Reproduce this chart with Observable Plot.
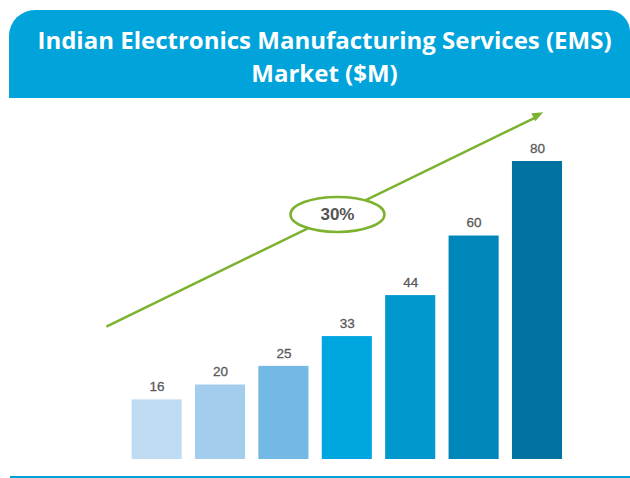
<!DOCTYPE html>
<html>
<head>
<meta charset="utf-8">
<script src="https://cdn.jsdelivr.net/npm/d3@7"></script>
<script src="https://cdn.jsdelivr.net/npm/@observablehq/plot@0.6"></script>
<style>
  html, body { margin: 0; padding: 0; background: #fff; }
  body { width: 630px; height: 478px; overflow: hidden; }
  #header {
    margin: 10px 0 0 9px; width: 621px; height: 88px; box-sizing: border-box;
    padding: 13px 0 0 10px; background: #00a3da; color: #fff;
    border-radius: 26px 22px 0 0; text-align: center; white-space: nowrap;
    font: bold 24px "Open Sans", Lato, sans-serif; line-height: 33px;
  }
  #chart svg { display: block; }
  #baseline { margin-left: 10px; width: 620px; height: 2px; background: #00a3da; }
</style>
</head>
<body>
<div id="header">Indian Electronics Manufacturing Services (EMS)<br>Market ($M)</div>
<div id="chart"></div>
<div id="baseline"></div>
<script>
// Data
const categories = ["Y1", "Y2", "Y3", "Y4", "Y5", "Y6", "Y7"];
const values = [16, 20, 25, 33, 44, 60, 80];
const palette = ["#c0dcf2", "#a3cdec", "#74b9e5", "#00a6e0", "#0098cd", "#0087b9", "#0073a0"];
const growthLabel = "30%";
// trend arrow (in data units: x = bar index, y = $M)
const trendStart = [-0.80, 35.7];
const trendEnd = [6.09, 93.2];
const badgeAt = [2.845, 65.8];

const data = categories.map((c, i) => ({category: c, i, value: values[i]}));
const green = "#7cb22f";

const ellipseSymbol = {
  draw(ctx) {
    const rx = 47, ry = 17.5, k = 0.5523;
    ctx.moveTo(rx, 0);
    ctx.bezierCurveTo(rx, ry * k, rx * k, ry, 0, ry);
    ctx.bezierCurveTo(-rx * k, ry, -rx, ry * k, -rx, 0);
    ctx.bezierCurveTo(-rx, -ry * k, -rx * k, -ry, 0, -ry);
    ctx.bezierCurveTo(rx * k, -ry, rx, -ry * k, rx, 0);
    ctx.closePath();
  }
};
const headSymbol = {
  draw(ctx) {
    ctx.moveTo(0, 0);
    ctx.lineTo(-11, -4.5);
    ctx.lineTo(-11, 4.5);
    ctx.closePath();
  }
};

const chart = Plot.plot({
  width: 630,
  height: 378,
  margin: 0,
  x: {type: "linear", domain: [0, 6], range: [156.6, 537], axis: null},
  y: {domain: [0, 80], range: [361, 63], axis: null},
  color: {type: "ordinal", domain: categories, range: palette},
  marks: [
    Plot.rectY(data, {x1: d => d.i - 0.395, x2: d => d.i + 0.395, y: "value", fill: "category"}),
    Plot.text(data, {x: "i", y: "value", text: d => String(d.value), dy: -13,
      fill: "#595959", fontSize: 13.5, fontFamily: "Liberation Sans, Arial, sans-serif",
      stroke: "#595959", strokeWidth: 0.3}),
    Plot.link([0], {x1: () => trendStart[0], y1: () => trendStart[1], x2: () => trendEnd[0] - 0.1, y2: () => trendEnd[1] - 1.2,
      stroke: green, strokeWidth: 2.5}),
    Plot.dot([0], {x: () => trendEnd[0], y: () => trendEnd[1], symbol: headSymbol, rotate: -26.1,
      fill: green, stroke: "none"}),
    Plot.dot([0], {x: () => badgeAt[0], y: () => badgeAt[1], symbol: ellipseSymbol,
      fill: "white", stroke: green, strokeWidth: 2.5}),
    Plot.text([growthLabel], {x: () => badgeAt[0], y: () => badgeAt[1], text: d => d,
      fill: "#555", fontSize: 17, fontWeight: "bold", fontFamily: "Liberation Sans, Arial, sans-serif"})
  ]
});
document.getElementById("chart").appendChild(chart);
</script>
</body>
</html>
